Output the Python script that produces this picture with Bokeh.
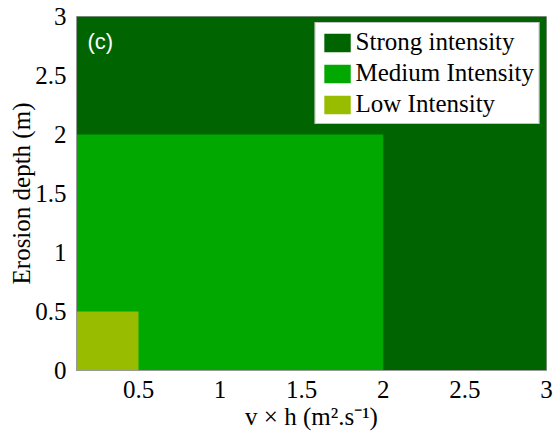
from bokeh.plotting import figure
from bokeh.models import Range1d, FixedTicker, Label, Legend, LegendItem
from bokeh.embed import file_html
from bokeh.resources import INLINE

# Intensity classes: each zone spans [x_min, x_max] x [0, depth_max]
classes = ["Strong intensity", "Medium Intensity", "Low Intensity"]
x_min = [0.0, 0.0, 0.0]
x_max = [3.0, 2.0, 0.5]
depth_min = [0.0, 0.0, 0.0]
depth_max = [3.0, 2.0, 0.5]
colors = ["#006400", "#00A800", "#97BC00"]

x_ticks = [0.5, 1, 1.5, 2, 2.5, 3]
x_tick_labels = ["0.5", "1", "1.5", "2", "2.5", "3"]
y_ticks = [0, 0.5, 1, 1.5, 2, 2.5, 3]
y_tick_labels = ["0", "0.5", "1", "1.5", "2", "2.5", "3"]

serif = "Liberation Serif"
fs = "25px"

p = figure(width=558, height=434, output_backend="svg", toolbar_location=None,
           x_range=Range1d(0.12, 3.0), y_range=Range1d(0, 3.0),
           min_border_left=76, min_border_right=12, min_border_top=16,
           min_border_bottom=64)
p.grid.visible = False
p.background_fill_color = "white"
p.border_fill_color = "white"
p.outline_line_color = "#999999"
p.outline_line_width = 1

items = []
for i, name in enumerate(classes):
    r = p.quad(left=x_min[i], right=x_max[i], bottom=depth_min[i], top=depth_max[i],
               fill_color=colors[i], line_color=None)
    items.append(LegendItem(label=name, renderers=[r]))

legend = Legend(items=items, location="top_right")
legend.label_text_font = serif
legend.label_text_font_size = fs
legend.label_text_color = "black"
legend.label_height = 23
legend.glyph_width = 33
legend.glyph_height = 23
legend.label_standoff = 2
legend.spacing = 3
legend.padding = 5
legend.margin = 6
legend.border_line_color = "#888888"
legend.background_fill_color = "white"
legend.background_fill_alpha = 1.0
p.add_layout(legend)

p.xaxis.ticker = FixedTicker(ticks=x_ticks)
p.yaxis.ticker = FixedTicker(ticks=y_ticks)
p.xaxis.major_label_overrides = dict(zip(x_ticks, x_tick_labels))
p.yaxis.major_label_overrides = dict(zip(y_ticks, y_tick_labels))

for ax in (p.xaxis, p.yaxis):
    ax.major_label_text_font = serif
    ax.major_label_text_font_size = fs
    ax.major_label_text_color = "black"
    ax.axis_label_text_font = serif
    ax.axis_label_text_font_size = fs
    ax.axis_label_text_font_style = "normal"
    ax.axis_label_text_color = "black"
    ax.major_tick_line_color = None
    ax.minor_tick_line_color = None
    ax.axis_line_color = "#999999"

p.xaxis.axis_label = "v \u00d7 h (m\u00b2.s\u207b\u00b9)"
p.yaxis.axis_label = "Erosion depth (m)"
p.xaxis.major_label_standoff = 4
p.yaxis.major_label_standoff = 4
p.xaxis.axis_label_standoff = 2
p.yaxis.axis_label_standoff = -3

p.add_layout(Label(x=11, y=317, x_units="screen", y_units="screen", text="(c)",
                   text_color="white", text_font="Liberation Sans",
                   text_font_size="22px"))

open("out.html", "w").write(file_html(p, INLINE))
